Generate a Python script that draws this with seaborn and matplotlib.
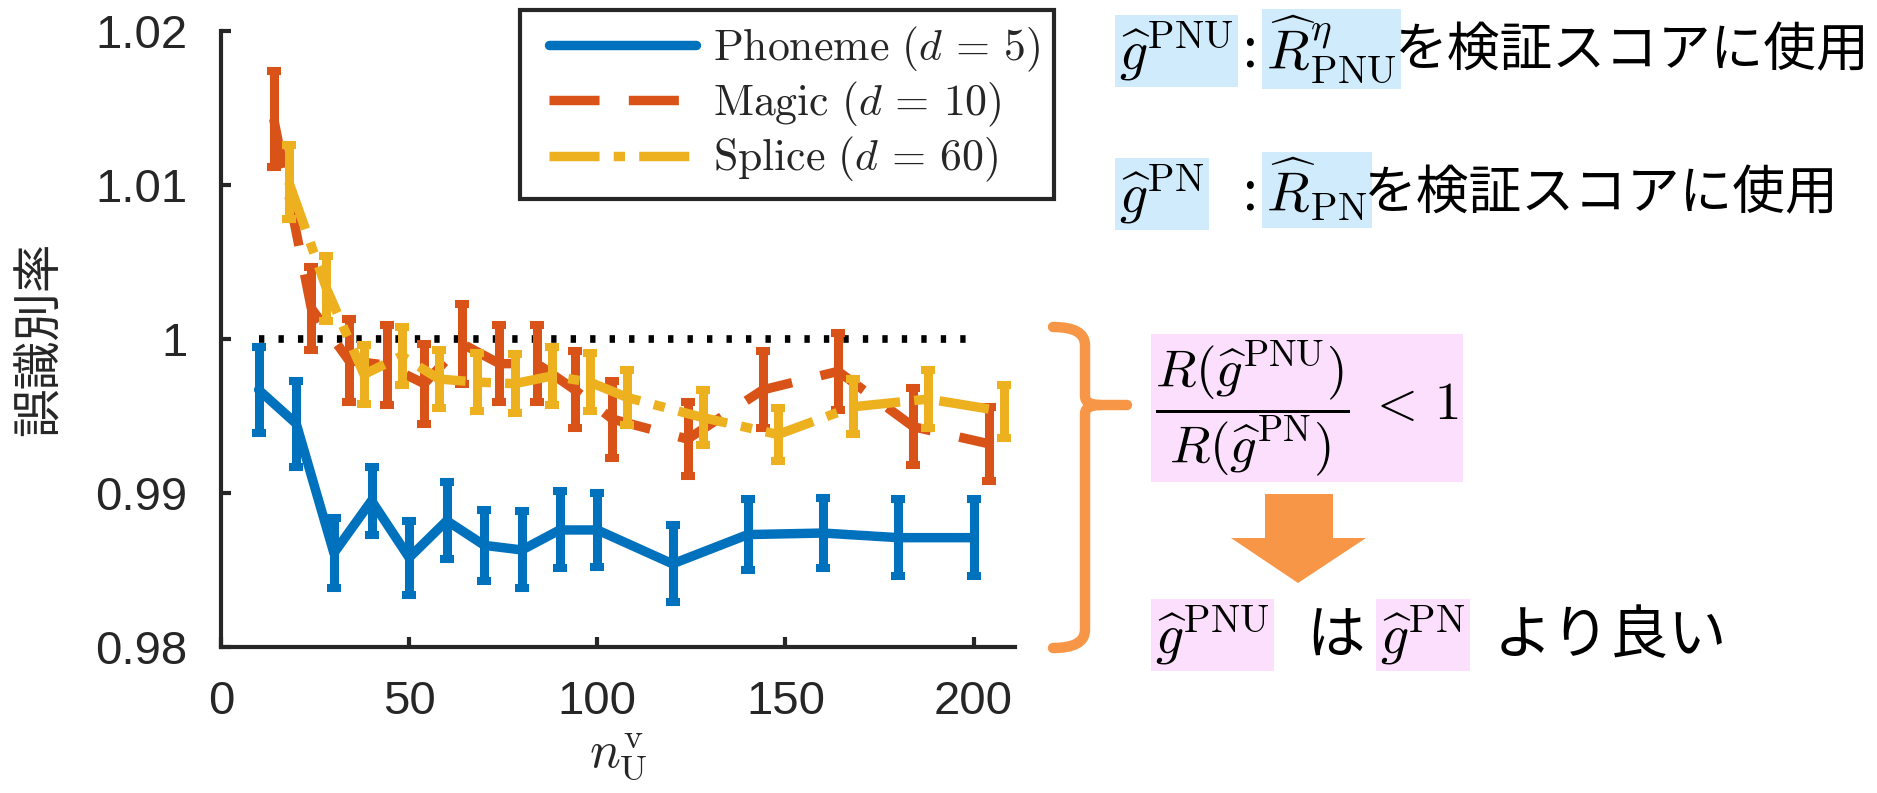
import numpy as np
import pandas as pd
import matplotlib
matplotlib.use("Agg")
import matplotlib.pyplot as plt
import seaborn as sns
from matplotlib.lines import Line2D
from matplotlib.patches import PathPatch, Polygon
from matplotlib.path import Path
from matplotlib.transforms import Affine2D
from matplotlib.legend_handler import HandlerLine2D

# ---------------- data ----------------
phoneme_x = [10, 20, 30, 40, 50, 60, 70, 80, 90, 100, 120, 140, 160, 180, 200]
phoneme_y = [0.9967, 0.9945, 0.9861, 0.9895, 0.9858, 0.9882, 0.9866, 0.9863,
             0.9876, 0.9876, 0.9854, 0.9873, 0.9874, 0.9871, 0.9871]
phoneme_err = [0.0028, 0.0028, 0.0023, 0.0022, 0.0024, 0.0025, 0.0023, 0.0025,
               0.0025, 0.0024, 0.0025, 0.0023, 0.0023, 0.0025, 0.0025]

magic_x = [14, 24, 34, 44, 54, 64, 74, 84, 94, 104, 124, 144, 164, 184, 204]
magic_y = [1.0143, 1.0020, 0.9986, 0.9983, 0.9971, 0.9997, 0.9984, 0.9984,
           0.9967, 0.9948, 0.9935, 0.9967, 0.9979, 0.9943, 0.9932]
magic_err = [0.0031, 0.0027, 0.0027, 0.0026, 0.0026, 0.0026, 0.0025, 0.0025,
             0.0025, 0.0025, 0.0024, 0.0025, 0.0025, 0.0025, 0.0024]

splice_x = [18, 28, 38, 48, 58, 68, 78, 88, 98, 108, 128, 148, 168, 188, 208]
splice_y = [1.0102, 1.0033, 0.9977, 0.9989, 0.9974, 0.9972, 0.9971, 0.9976,
            0.9972, 0.9962, 0.9949, 0.9938, 0.9956, 0.9961, 0.9953]
splice_err = [0.0024, 0.0021, 0.0019, 0.0019, 0.0019, 0.0019, 0.0019, 0.0019,
              0.0019, 0.0018, 0.0018, 0.0017, 0.0018, 0.0019, 0.0017]

ref_x = [10, 200]
ref_y = [1.0, 1.0]

series_names = ["Phoneme", "Magic", "Splice"]
legend_labels = [r"$\mathrm{Phoneme}\ (d\,=\,5)$", r"$\mathrm{Magic}\ (d\,=\,10)$",
                 r"$\mathrm{Splice}\ (d\,=\,60)$"]
x_ticks = [0, 50, 100, 150, 200]
y_ticks = [0.98, 0.99, 1.00, 1.01, 1.02]
y_tick_labels = ["0.98", "0.99", "1", "1.01", "1.02"]
x_label = r"$n_{\mathrm{U}}^{\mathrm{v}}$"
y_label = "誤識別率"

colors = {"Phoneme": "#0072BD", "Magic": "#D95319", "Splice": "#EDB120"}
dash_map = {"Phoneme": "", "Magic": (5.3, 3.1), "Splice": (5.3, 1.5, 1.2, 1.5)}

# ---------------- style ----------------
sns.set_theme(style="ticks")
plt.rcParams["font.family"] = ["Liberation Sans", "Noto Sans CJK JP", "DejaVu Sans"]
plt.rcParams["mathtext.fontset"] = "cm"
DARK = "#262626"
JP = ["Noto Sans CJK JP", "DejaVu Sans"]

W, H = 1877, 793
fig = plt.figure(figsize=(W / 100, H / 100), dpi=100)
fig.patch.set_facecolor("white")
ax = fig.add_axes([221 / W, 1 - 647 / H, (1015 - 221) / W, (647 - 31) / H])
ax.set_facecolor("white")

df = pd.concat([
    pd.DataFrame({"x": phoneme_x, "y": phoneme_y, "dataset": "Phoneme"}),
    pd.DataFrame({"x": magic_x, "y": magic_y, "dataset": "Magic"}),
    pd.DataFrame({"x": splice_x, "y": splice_y, "dataset": "Splice"}),
], ignore_index=True)

LW = 6.8
# reference dotted line at 1
ax.plot(ref_x, ref_y, color="black", lw=5.5, dashes=(0.7, 1.85), zorder=1.5,
        dash_capstyle="butt")

sns.lineplot(data=df, x="x", y="y", hue="dataset", style="dataset",
             hue_order=series_names, style_order=series_names,
             palette=colors, dashes=dash_map, lw=LW, legend=False,
             estimator=None, sort=False, ax=ax)

zmap = {"#0072BD": 2.0, "#D95319": 2.2, "#EDB120": 2.4}
for l in ax.lines[1:]:
    c = matplotlib.colors.to_hex(l.get_color()).upper()
    if c in zmap:
        l.set_zorder(zmap[c])

for name, xs, ys, es, z in [("Phoneme", phoneme_x, phoneme_y, phoneme_err, 2.1),
                            ("Magic", magic_x, magic_y, magic_err, 2.3),
                            ("Splice", splice_x, splice_y, splice_err, 2.5)]:
    ax.errorbar(xs, ys, yerr=es, fmt="none", ecolor=colors[name],
                elinewidth=6.5, capsize=5.2, capthick=5.8, zorder=z)

ax.set_xlim(0, 211)
ax.set_ylim(0.98, 1.02)
ax.set_xticks(x_ticks)
ax.set_xticklabels([str(t) for t in x_ticks])
ax.set_yticks(y_ticks)
ax.set_yticklabels(y_tick_labels)
for s in ["top", "right"]:
    ax.spines[s].set_visible(False)
for s in ["left", "bottom"]:
    ax.spines[s].set_color(DARK)
    ax.spines[s].set_linewidth(3)
ax.tick_params(direction="in", length=7, width=3, color=DARK, labelcolor=DARK,
               labelsize=34, pad=24)
for t in ax.get_xticklabels() + ax.get_yticklabels():
    t.set_family(["Liberation Sans", "DejaVu Sans"])

ax.set_xlabel(x_label, fontsize=37, color=DARK, labelpad=5)
ax.set_ylabel(y_label, fontsize=35, family=JP, color=DARK, labelpad=22)

# legend
handles = [Line2D([], [], color=colors["Phoneme"], lw=LW, linestyle="-"),
           Line2D([], [], color=colors["Magic"], lw=LW, dashes=dash_map["Magic"]),
           Line2D([], [], color=colors["Splice"], lw=LW, dashes=dash_map["Splice"])]
LEG_FS = 31.5
hmap = {h: HandlerLine2D(xpad=0.34) for h in handles}
leg = ax.legend(handles, legend_labels, loc="upper left",
                bbox_to_anchor=(520 / W, 1 - 10 / H), bbox_transform=fig.transFigure,
                frameon=True, fancybox=False, framealpha=1, edgecolor=DARK,
                borderaxespad=0, borderpad=0.33, handlelength=3.7,
                handletextpad=0.38, labelspacing=0.14, fontsize=LEG_FS,
                handler_map=hmap)
leg.get_frame().set_linewidth(3)
leg.set_zorder(5)

# ---------------- annotations (right side) ----------------
REF = Affine2D().scale(1 / W, -1 / H).translate(0, 1) + fig.transFigure
BLUE_HL = "#CFEBFC"
PINK_HL = "#FCDFFC"
ORANGE = "#F79646"


def ftext(x, y, s, size, hl=None, ha="left", family=None, **kw):
    props = dict(fontsize=size, ha=ha, va="center", color="black", **kw)
    if family is not None:
        props["family"] = family
    if hl is not None:
        props["bbox"] = dict(boxstyle="square,pad=0.08", fc=hl, ec="none")
    return fig.text(x / W, 1 - y / H, s, **props)


# line 1
ftext(1119, 51, r"$\widehat{g}^{\mathrm{PNU}}$", 40, hl=BLUE_HL)
ftext(1250, 51, ":", 38, ha="center", family=JP)
ftext(1266, 49, r"$\widehat{R}^{\eta}_{\mathrm{PNU}}$", 40, hl=BLUE_HL)
ftext(1395, 51, "を検証スコアに使用", 38, family=JP)
# line 2
ftext(1119, 194, r"$\widehat{g}^{\mathrm{PN}}$", 40, hl=BLUE_HL)
ftext(1250, 194, ":", 38, ha="center", family=JP)
ftext(1266, 190, r"$\widehat{R}_{\mathrm{PN}}$", 40, hl=BLUE_HL)
ftext(1364, 194, "を検証スコアに使用", 38, family=JP)
# fraction
ftext(1155, 408, r"$\dfrac{R(\widehat{g}^{\mathrm{PNU}})}{R(\widehat{g}^{\mathrm{PN}})}\;<\,1$", 38, hl=PINK_HL)
# bottom line
ftext(1155, 635, r"$\widehat{g}^{\mathrm{PNU}}$", 40, hl=PINK_HL)
ftext(1306, 637, "は", 42, family=JP)
ftext(1380, 635, r"$\widehat{g}^{\mathrm{PN}}$", 40, hl=PINK_HL)
ftext(1494, 637, "より良い", 42, family=JP)

# brace
verts = [(1053, 327), (1085, 327), (1085, 345), (1085, 396), (1085, 405), (1100, 405),
         (1127, 405),
         (1100, 405), (1085, 405), (1085, 414), (1085, 630), (1085, 648), (1053, 648)]
codes = [Path.MOVETO, Path.CURVE3, Path.CURVE3, Path.LINETO, Path.CURVE3, Path.CURVE3,
         Path.LINETO,
         Path.MOVETO, Path.CURVE3, Path.CURVE3, Path.LINETO, Path.CURVE3, Path.CURVE3]
brace = PathPatch(Path(verts, codes), transform=REF, fill=False, ec=ORANGE,
                  lw=7.5, capstyle="round", joinstyle="round")
fig.add_artist(brace)

# arrow
arrow = Polygon([(1265, 494), (1333, 494), (1333, 538), (1366, 538), (1298, 583),
                 (1231, 538), (1265, 538)], closed=True, transform=REF,
                fc=ORANGE, ec="none")
fig.add_artist(arrow)

fig.savefig("out.png", dpi=100, facecolor="white")
